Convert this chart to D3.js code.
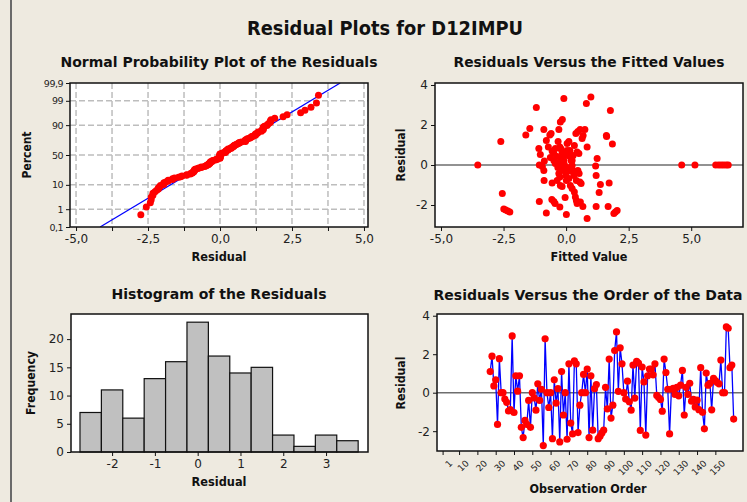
<!DOCTYPE html>
<html>
<head>
<meta charset="utf-8">
<script src="https://cdn.jsdelivr.net/npm/d3@7"></script>
<style>
  body { margin: 0; background: #EEEAE0; }
  svg { display: block; }
</style>
</head>
<body>
<div id="chart"></div>
<script>
// Residuals in observation order (first observation is 27)
var firstObs = 27;
var residuals = [
  1.1, 1.9, 0.35, 0.67, -1.65, 1.77, 0, 0, -0.33, -0.5,
  -0.95, -0.88, 2.95, -1.03, 0.88, 0.08, 0.88, -1.8, -2.33, -1.44,
  -1.65, -0.4, -1.8, 0, -0.27, -0.91, 0.46, -0.4, 0.18, -2.75,
  2.8, 0, -0.77, 0, -2.39, 0.67, -0.54, 0.21, -2.56, 1.1,
  -1.16, 0, -2.42, 1.5, -1.58, -2.14, 1.65, 1.5, -2.07, -0.65,
  0, 0.95, 0, 1.23, -2.33, 0.88, -1.95, 0.21, 0.42, -2.39,
  -2.26, -2.09, -1.95, 0.28, -0.84, 1.75, -1.32, -0.65, 2.19, 3.16,
  0.07, 2.33, 1.5, 0, -0.33, 0.6, -0.47, -0.91, 1.44, -0.28,
  1.63, 1.54, -1.96, 1.33, 0.56, -2.2, 0.88, 1.23, 1.23, 0.93,
  1.5, -0.14, -0.25, -0.35, -0.96, 1.75, 1.05, 0.18, -2.14, 0.18,
  0.23, -0.09, 0.28, -0.16, 0.39, 1.16, -1.16, 0.28, -0.09, 0.49,
  -0.44, -0.35, -0.74, -0.39, -0.88, 1.3, -1.02, -1.88, 1.02, 0.39,
  0.49, -0.89, 0.74, 0.63, 0.53, 0.46, 1.7, 0, 0, 3.42,
  3.35, 1.3, 1.44, -1.37
];

// Residuals versus fitted values
var fitX = [
  -3.53, -2.61, -2.55, -2.49, -2.41, -2.33, -2.25, -1.61, -1.45, -1.19,
  4.62, 5.15, 5.98, 6.1, 6.2, 6.3, 6.4, 6.48,
  1.77, 1.85, 1.91, 1.97, 2.04, 1.72, 1.68, 1.61, 1.62, 1.37, 1.32, 1.24,
  1.18, 1.2, 1.2, 0.99, 0.81, 0.84, -1.07, -0.79, -0.09, 0.01, -0.04,
  -1.09, -1.03, -1.07, -0.95, -0.87, -0.89, -0.88, -0.89, -0.79, -0.6,
  -0.65, -0.71, -0.56, -0.57, -0.49, -0.44, -0.25, -0.36, -0.32, -0.29,
  -0.25, -0.23, -0.15, -0.63, -0.49, -0.43, -0.33, -0.29, -0.25, -0.36,
  -0.23, -0.16, -0.2, -0.16, -0.12, -0.09, -0.07, -0.04, -0.01, 0.01,
  0.04, 0.11, 0.15, 0.17, 0.2, 0.24, 0.28, 0.31, 0.11, 0.17,
  0.24, 0.33, 0.37, 0.41, 0.44, 0.57, 0.67, 0.39, 0.47, 0.56,
  0.64, 0.68, 0.75, 0.84, 0.33, 0.44, 0.51, 0.47, 0.52, 0.55,
  0.6, 0.41, 0.04, 0.07, -0.15, -0.25, -0.17, -0.12, 0.04, 0.09,
  0.17, 0.24, 0.28, -0.49, -0.43, -0.56
];
var fitY = [
  0, 1.17, -1.43, -2.2, -2.25, -2.3, -2.35, 1.5, 1.83, 2.87,
  0, 0, 0, 0, 0, 0, 0, 0,
  2.73, 1.05, -2.43, -2.35, -2.27, -0.9, -2.07, 1.48, 1.43, -0.97, -1.37, 0.33,
  -0.05, -0.53, -2.07, 3.4, 3.07, -2.68, -1.82, -2.4, 3.33, -2.47, -1.63,
  0.83, 0.53, 0, -0.07, 0.2, -0.27, -0.77, 1.77, 1.23, 1.57,
  1.5, 0.9, -0.9, -1.73, -1.83, -1.92, -2.1, 0.43, 1.17, 1.77,
  0.9, 2.15, 2.27, 0.37, 0.23, 0.07, -0.13, -0.43, -0.6, -0.77,
  -1.02, -1.07, 0.8, 0.65, 0.48, 0.23, 0.03, -0.27, -0.52, -0.77,
  1.07, 1.17, 0.73, 0.43, 0.23, -0.02, -0.27, -0.52, -0.68, -1.02,
  -1.18, -1.35, -1.6, -1.77, -1.93, -1.85, -2.07, 1.57, 1.67, 1.77,
  1.32, 1.47, 1.78, 0.9, 0.98, 0.65, 0.57, -0.27, -0.43, -0.85,
  -0.93, -0.77, 0.73, 0.48, 0.32, 0.15, -0.13, -0.27, -0.13, -0.27,
  -0.3, 0.23, 0.48, 0.57, 0.82, 0.7
];

// Histogram bins (centres, width 0.5) and frequencies
var binCenters = [-2.5, -2, -1.5, -1, -0.5, 0, 0.5, 1, 1.5, 2, 2.5, 3, 3.5];
var binCounts = [7, 11, 6, 13, 16, 23, 17, 14, 15, 3, 1, 3, 2];

// Tick labels
var probTicks = [0.1, 1, 10, 50, 90, 99, 99.9];
var probLabels = ["0,1", "1", "10", "50", "90", "99", "99,9"];
var residTicks = [-5, -2.5, 0, 2.5, 5];
var histTicks = [-2, -1, 0, 1, 2, 3];
var freqTicks = [0, 5, 10, 15, 20];
var residYTicks = [-2, 0, 2, 4];
var orderTicks = [1, 10, 20, 30, 40, 50, 60, 70, 80, 90, 100, 110, 120, 130, 140, 150];

var svgWidth = 747;
var svgHeight = 502;
var fontFam = "DejaVu Sans, Verdana, sans-serif";
// Minitab style labels: decimal comma and a plain hyphen for minus
var commaFmt = d => d.toFixed(1).replace(".", ",");
var plainFmt = d => String(d);

var svg = d3.select("#chart")
  .append("svg")
  .attr("width", svgWidth)
  .attr("height", svgHeight);

svg.append("rect")
  .attr("width", svgWidth)
  .attr("height", svgHeight)
  .attr("fill", "#EEEAE0");

svg.append("line")
  .attr("x1", 11).attr("x2", 11)
  .attr("y1", 0).attr("y2", svgHeight)
  .attr("stroke", "#6a6a6a")
  .attr("stroke-width", 2);

// Inverse normal CDF (Acklam's approximation)
function qnorm(p) {
  var a = [-39.69683028665376, 220.9460984245205, -275.9285104469687, 138.3577518672690, -30.66479806614716, 2.506628277459239];
  var b = [-54.47609879822406, 161.5858368580409, -155.6989798598866, 66.80131188771972, -13.28068155288572];
  var c = [-0.007784894002430293, -0.3223964580411365, -2.400758277161838, -2.549732539343734, 4.374664141464968, 2.938163982698783];
  var d = [0.007784695709041462, 0.3224671290700398, 2.445134137142996, 3.754408661907416];
  var pl = 0.02425, q, r;
  if (p < pl) {
    q = Math.sqrt(-2 * Math.log(p));
    return (((((c[0]*q+c[1])*q+c[2])*q+c[3])*q+c[4])*q+c[5]) / ((((d[0]*q+d[1])*q+d[2])*q+d[3])*q+1);
  } else if (p <= 1 - pl) {
    q = p - 0.5; r = q * q;
    return (((((a[0]*r+a[1])*r+a[2])*r+a[3])*r+a[4])*r+a[5])*q / (((((b[0]*r+b[1])*r+b[2])*r+b[3])*r+b[4])*r+1);
  }
  q = Math.sqrt(-2 * Math.log(1 - p));
  return -(((((c[0]*q+c[1])*q+c[2])*q+c[3])*q+c[4])*q+c[5]) / ((((d[0]*q+d[1])*q+d[2])*q+d[3])*q+1);
}

// Text helper with fixed width, to mimic Minitab's wide bold font
function addText(x, y, txt, size, width, rotate) {
  var t = svg.append("text")
    .attr("font-family", fontFam)
    .attr("font-weight", "bold")
    .attr("font-size", size)
    .attr("fill", "#111")
    .attr("text-anchor", "middle")
    .text(txt);
  if (width) t.attr("textLength", width).attr("lengthAdjust", "spacingAndGlyphs");
  if (rotate) t.attr("transform", `translate(${x},${y}) rotate(-90)`);
  else t.attr("x", x).attr("y", y);
  return t;
}

function plotBox(x0, y0, x1, y1) {
  svg.append("rect")
    .attr("x", x0).attr("y", y0)
    .attr("width", x1 - x0).attr("height", y1 - y0)
    .attr("fill", "white");
}

function frame(x0, y0, x1, y1) {
  svg.append("rect")
    .attr("x", x0).attr("y", y0)
    .attr("width", x1 - x0).attr("height", y1 - y0)
    .attr("fill", "none")
    .attr("stroke", "#111")
    .attr("stroke-width", 1.5);
}

function styleAxis(g, size) {
  g.select(".domain").remove();
  g.selectAll("line").attr("stroke", "#111");
  g.selectAll("text")
    .attr("font-family", fontFam)
    .attr("font-size", size)
    .attr("fill", "#222");
}

addText(385, 35, "Residual Plots for D12IMPU", 20, 276);

// ---------- Normal probability plot ----------
var p1 = { x0: 70, x1: 368, y0: 83, y1: 227 };
var xProb = d3.scaleLinear().domain([-5.21, 5.14]).range([p1.x0, p1.x1]);
var yProb = d3.scaleLinear().domain([qnorm(0.001), qnorm(0.999)]).range([p1.y1, p1.y0]);

plotBox(p1.x0, p1.y0, p1.x1, p1.y1);

var gridX = d3.range(-5, 5.01, 1.25);
svg.append("g").selectAll("line")
  .data(gridX)
  .enter()
  .append("line")
  .attr("x1", d => xProb(d)).attr("x2", d => xProb(d))
  .attr("y1", p1.y0).attr("y2", p1.y1)
  .attr("stroke", "#bdbdbd")
  .attr("stroke-width", 1.5)
  .attr("stroke-dasharray", "6,3");

svg.append("g").selectAll("line")
  .data(probTicks.slice(1, -1))
  .enter()
  .append("line")
  .attr("x1", p1.x0).attr("x2", p1.x1)
  .attr("y1", d => yProb(qnorm(d / 100))).attr("y2", d => yProb(qnorm(d / 100)))
  .attr("stroke", "#bdbdbd")
  .attr("stroke-width", 1.5)
  .attr("stroke-dasharray", "6,3");

// Fitted normal line from the residuals' mean and standard deviation
var mu = d3.mean(residuals);
var sd = d3.deviation(residuals);
svg.append("clipPath").attr("id", "clip1")
  .append("rect").attr("x", p1.x0).attr("y", p1.y0)
  .attr("width", p1.x1 - p1.x0).attr("height", p1.y1 - p1.y0);
svg.append("line")
  .attr("clip-path", "url(#clip1)")
  .attr("x1", xProb(mu + sd * qnorm(0.001))).attr("y1", yProb(qnorm(0.001)))
  .attr("x2", xProb(mu + sd * qnorm(0.999))).attr("y2", yProb(qnorm(0.999)))
  .attr("stroke", "#0000ff")
  .attr("stroke-width", 1.2);

var sorted = residuals.slice().sort(d3.ascending);
var n = sorted.length;
svg.append("g").selectAll("circle")
  .data(sorted)
  .enter()
  .append("circle")
  .attr("cx", d => xProb(d))
  .attr("cy", (d, i) => yProb(qnorm((i + 1 - 0.3) / (n + 0.4))))
  .attr("r", 3.5)
  .attr("fill", "#ff0000");

frame(p1.x0, p1.y0, p1.x1, p1.y1);

var ax1 = svg.append("g")
  .attr("transform", `translate(0,${p1.y1})`)
  .call(d3.axisBottom(xProb).tickValues(gridX).tickSize(4)
    .tickFormat(d => residTicks.indexOf(d) >= 0 ? commaFmt(d) : ""));
styleAxis(ax1, 12);
var ay1 = svg.append("g")
  .attr("transform", `translate(${p1.x0},0)`)
  .call(d3.axisLeft(yProb).tickValues(probTicks.map(d => qnorm(d / 100))).tickSize(4)
    .tickFormat((d, i) => probLabels[i]));
styleAxis(ay1, 9.5);
ay1.selectAll("text").attr("letter-spacing", -0.5);

addText(219, 67, "Normal Probability Plot of the Residuals", 14, 317);
addText(219, 261, "Residual", 12, 55);
addText(31, 155, "Percent", 12, 47, true);

// ---------- Residuals versus fitted values ----------
var p2 = { x0: 435, x1: 743, y0: 83, y1: 227 };
var xFit = d3.scaleLinear().domain([-5.24, 7.07]).range([p2.x0, p2.x1]);
var yFit = d3.scaleLinear().domain([-3.1, 4.1]).range([p2.y1, p2.y0]);

plotBox(p2.x0, p2.y0, p2.x1, p2.y1);
svg.append("line")
  .attr("x1", p2.x0).attr("x2", p2.x1)
  .attr("y1", yFit(0)).attr("y2", yFit(0))
  .attr("stroke", "#6e6e6e")
  .attr("stroke-width", 1.5);

svg.append("g").selectAll("circle")
  .data(fitX)
  .enter()
  .append("circle")
  .attr("cx", d => xFit(d))
  .attr("cy", (d, i) => yFit(fitY[i]))
  .attr("r", 3.5)
  .attr("fill", "#ff0000");

frame(p2.x0, p2.y0, p2.x1, p2.y1);

var ax2 = svg.append("g")
  .attr("transform", `translate(0,${p2.y1})`)
  .call(d3.axisBottom(xFit).tickValues(residTicks).tickSize(4).tickFormat(commaFmt));
styleAxis(ax2, 12);
var ay2 = svg.append("g")
  .attr("transform", `translate(${p2.x0},0)`)
  .call(d3.axisLeft(yFit).tickValues(residYTicks).tickSize(4).tickFormat(plainFmt));
styleAxis(ay2, 12);

addText(589, 67, "Residuals Versus the Fitted Values", 14, 271);
addText(589, 261, "Fitted Value", 12, 77);
addText(405, 155, "Residual", 12, 53, true);

// ---------- Histogram ----------
var p3 = { x0: 71, x1: 368, y0: 314, y1: 452 };
var xHist = d3.scaleLinear().domain([-2.96, 3.98]).range([p3.x0, p3.x1]);
var yHist = d3.scaleLinear().domain([0, 24.45]).range([p3.y1, p3.y0]);

plotBox(p3.x0, p3.y0, p3.x1, p3.y1);

svg.append("g").selectAll("rect")
  .data(binCenters)
  .enter()
  .append("rect")
  .attr("x", d => xHist(d - 0.25))
  .attr("width", d => xHist(d + 0.25) - xHist(d - 0.25))
  .attr("y", (d, i) => yHist(binCounts[i]))
  .attr("height", (d, i) => yHist(0) - yHist(binCounts[i]))
  .attr("fill", "#c0c0c0")
  .attr("stroke", "#111")
  .attr("stroke-width", 1.2);

frame(p3.x0, p3.y0, p3.x1, p3.y1);

var ax3 = svg.append("g")
  .attr("transform", `translate(0,${p3.y1})`)
  .call(d3.axisBottom(xHist).tickValues(histTicks).tickSize(4).tickFormat(plainFmt));
styleAxis(ax3, 12);
var ay3 = svg.append("g")
  .attr("transform", `translate(${p3.x0},0)`)
  .call(d3.axisLeft(yHist).tickValues(freqTicks).tickSize(4));
styleAxis(ay3, 12);

addText(219, 299, "Histogram of the Residuals", 14, 215);
addText(219, 486, "Residual", 12, 55);
addText(35, 383, "Frequency", 12, 64, true);

// ---------- Residuals versus order ----------
var p4 = { x0: 437, x1: 743, y0: 314, y1: 451 };
var xOrd = d3.scaleLinear().domain([-2.06, 165.1]).range([p4.x0, p4.x1]);
var yOrd = d3.scaleLinear().domain([-3.03, 4.09]).range([p4.y1, p4.y0]);

plotBox(p4.x0, p4.y0, p4.x1, p4.y1);
svg.append("line")
  .attr("x1", p4.x0).attr("x2", p4.x1)
  .attr("y1", yOrd(0)).attr("y2", yOrd(0))
  .attr("stroke", "#6e6e6e")
  .attr("stroke-width", 1.5);

var orderLine = d3.line()
  .x((d, i) => xOrd(firstObs + i))
  .y(d => yOrd(d));

svg.append("path")
  .datum(residuals)
  .attr("d", orderLine)
  .attr("fill", "none")
  .attr("stroke", "#0000ff")
  .attr("stroke-width", 1.3);

svg.append("g").selectAll("circle")
  .data(residuals)
  .enter()
  .append("circle")
  .attr("cx", (d, i) => xOrd(firstObs + i))
  .attr("cy", d => yOrd(d))
  .attr("r", 3.6)
  .attr("fill", "#ff0000");

frame(p4.x0, p4.y0, p4.x1, p4.y1);

var ax4 = svg.append("g")
  .attr("transform", `translate(0,${p4.y1})`)
  .call(d3.axisBottom(xOrd).tickValues(orderTicks).tickSize(4));
styleAxis(ax4, 9);
ax4.selectAll("text")
  .attr("text-anchor", "end")
  .attr("dy", "0.3em")
  .attr("transform", "translate(3,6) rotate(-45)");
var ay4 = svg.append("g")
  .attr("transform", `translate(${p4.x0},0)`)
  .call(d3.axisLeft(yOrd).tickValues(residYTicks).tickSize(4).tickFormat(plainFmt));
styleAxis(ay4, 12);

addText(588, 300, "Residuals Versus the Order of the Data", 14, 309);
addText(588, 493, "Observation Order", 12, 117);
addText(405, 383, "Residual", 12, 53, true);
</script>
</body>
</html>
